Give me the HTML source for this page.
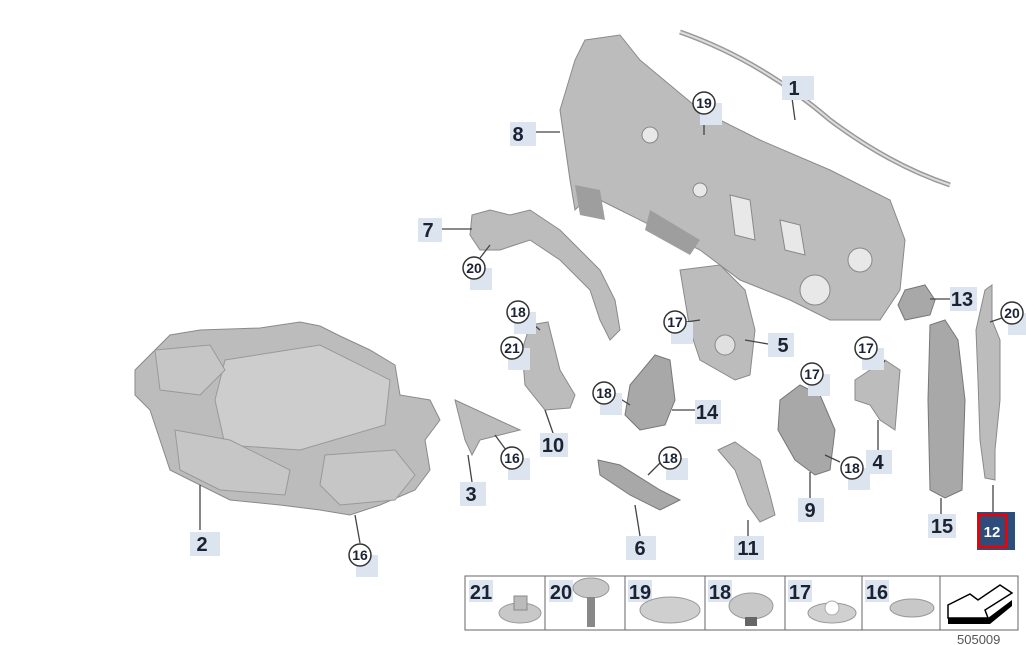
<!DOCTYPE html>
<html><head><meta charset="utf-8"><style>
html,body{margin:0;padding:0;background:#fff;}
svg{display:block;font-family:"Liberation Sans",sans-serif;}
.b{fill:#dbe4ef}
.t{font-weight:bold;font-size:20px;fill:#1a2233;text-anchor:middle}
.c{fill:#fff;stroke:#333;stroke-width:1.5}
.ct{font-weight:bold;font-size:14px;fill:#1a2233;text-anchor:middle}
.p{fill:#bcbcbc;stroke:#8a8a8a;stroke-width:1}
.d{fill:#a8a8a8;stroke:#777;stroke-width:1}
.l{stroke:#444;stroke-width:1.3;fill:none}
</style></head><body>
<svg width="1026" height="645" viewBox="0 0 1026 645">
<!-- big shield 2 -->
<path class="p" d="M135 370 L170 335 L200 330 L260 328 L300 322 L320 326 L340 336 L370 350 L395 365 L400 395 L430 400 L440 420 L425 440 L430 470 L415 490 L380 505 L350 515 L320 510 L280 505 L230 500 L200 485 L170 470 L160 440 L150 410 L135 395 Z"/>
<path fill="#cdcdcd" stroke="#999" d="M225 360 L320 345 L390 380 L385 425 L300 450 L225 445 L215 400 Z"/>
<path fill="#c6c6c6" stroke="#999" d="M175 430 L230 440 L290 470 L285 495 L220 490 L180 470 Z"/>
<path fill="#c6c6c6" stroke="#999" d="M325 455 L395 450 L415 475 L395 500 L340 505 L320 485 Z"/>
<path fill="#c6c6c6" stroke="#999" d="M155 350 L210 345 L225 370 L200 395 L160 390 Z"/>
<!-- firewall 8 -->
<path class="p" d="M585 40 L620 35 L640 60 L700 110 L760 140 L830 170 L890 200 L905 240 L900 290 L880 320 L830 320 L790 300 L740 280 L700 250 L660 230 L620 210 L590 195 L575 210 L570 180 L560 110 L575 60 Z"/>
<path fill="#9e9e9e" d="M575 185 L600 190 L605 220 L580 215 Z M650 210 L700 240 L690 255 L645 230 Z"/>
<circle cx="815" cy="290" r="15" fill="#e8e8e8" stroke="#888"/>
<circle cx="860" cy="260" r="12" fill="#e8e8e8" stroke="#888"/>
<circle cx="650" cy="135" r="8" fill="#e8e8e8" stroke="#888"/>
<circle cx="700" cy="190" r="7" fill="#e8e8e8" stroke="#888"/>
<path fill="#e8e8e8" stroke="#888" d="M730 195 L750 200 L755 240 L735 235 Z M780 220 L800 225 L805 255 L785 250 Z"/>
<!-- strip 1 -->
<path d="M680 32 Q760 60 830 120 Q890 165 950 185" fill="none" stroke="#999" stroke-width="5"/>
<path d="M680 32 Q760 60 830 120 Q890 165 950 185" fill="none" stroke="#ddd" stroke-width="2"/>
<!-- 7 -->
<path class="p" d="M472 215 L490 210 L510 215 L530 210 L560 230 L600 270 L615 300 L620 330 L610 340 L600 320 L590 290 L560 260 L530 240 L500 250 L480 250 L470 235 Z"/>
<!-- 5 -->
<path class="p" d="M680 270 L720 265 L745 290 L755 330 L750 375 L735 380 L700 360 L690 330 Z"/>
<circle cx="725" cy="345" r="10" fill="#e0e0e0" stroke="#888"/>
<!-- 13 -->
<path class="d" d="M905 290 L925 285 L935 300 L930 315 L905 320 L898 305 Z"/>
<!-- 15 -->
<path class="d" d="M930 325 L945 320 L958 340 L965 400 L962 490 L945 498 L930 490 L928 400 Z"/>
<!-- 12 -->
<path class="p" d="M985 290 L992 285 L992 320 L1000 340 L1000 400 L995 450 L995 480 L985 478 L980 440 L978 380 L976 330 Z"/>
<!-- 10 -->
<path class="p" d="M530 325 L548 322 L560 370 L575 395 L570 408 L545 410 L525 385 L522 350 Z"/>
<!-- 14 -->
<path class="d" d="M630 385 L655 355 L670 360 L675 400 L665 425 L640 430 L625 415 Z"/>
<!-- 3 -->
<path class="p" d="M455 400 L520 430 L480 440 L472 455 L465 440 Z"/>
<!-- 6 -->
<path class="d" d="M598 460 L620 465 L660 490 L680 500 L660 510 L630 495 L600 475 Z"/>
<!-- 11 -->
<path class="p" d="M718 450 L735 442 L760 460 L770 495 L775 515 L760 522 L748 505 L735 470 Z"/>
<!-- 9 -->
<path class="d" d="M780 400 L800 385 L820 395 L835 430 L830 470 L815 475 L795 460 L778 430 Z"/>
<!-- 4 -->
<path class="p" d="M855 380 L885 360 L900 370 L895 430 L880 420 L870 405 L855 400 Z"/>

<!-- leaders -->
<g class="l">
<path d="M792 98 L795 120"/><path d="M535 132 L560 132"/><path d="M704 115 L704 135"/>
<path d="M440 229 L472 229"/><path d="M480 258 L490 245"/><path d="M528 320 L540 330"/>
<path d="M520 356 L528 365"/><path d="M686 322 L700 320"/><path d="M768 344 L745 340"/>
<path d="M950 299 L930 299"/><path d="M1002 318 L990 322"/><path d="M876 352 L885 362"/>
<path d="M616 396 L630 405"/><path d="M695 410 L672 410"/><path d="M553 433 L545 410"/>
<path d="M472 482 L468 455"/><path d="M506 450 L495 435"/><path d="M812 386 L812 395"/>
<path d="M878 450 L878 420"/><path d="M840 462 L825 455"/><path d="M660 463 L648 475"/>
<path d="M810 498 L810 472"/><path d="M941 514 L941 498"/><path d="M993 514 L993 485"/>
<path d="M640 536 L635 505"/><path d="M748 536 L748 520"/><path d="M200 530 L200 485"/>
<path d="M360 543 L355 515"/>
</g>

<!-- label boxes -->
<g>
<rect class="b" x="782" y="76" width="32" height="24"/><text class="t" x="794" y="95">1</text>
<rect class="b" x="510" y="122" width="26" height="24"/><text class="t" x="518" y="141">8</text>
<rect class="b" x="418" y="218" width="24" height="24"/><text class="t" x="428" y="237">7</text>
<rect class="b" x="768" y="333" width="26" height="24"/><text class="t" x="783" y="352">5</text>
<rect class="b" x="950" y="287" width="27" height="24"/><text class="t" x="962" y="306">13</text>
<rect class="b" x="695" y="400" width="26" height="24"/><text class="t" x="707" y="419">14</text>
<rect class="b" x="540" y="433" width="28" height="24"/><text class="t" x="553" y="452">10</text>
<rect class="b" x="460" y="482" width="26" height="24"/><text class="t" x="471" y="501">3</text>
<rect class="b" x="866" y="450" width="26" height="24"/><text class="t" x="878" y="469">4</text>
<rect class="b" x="798" y="498" width="26" height="24"/><text class="t" x="810" y="517">9</text>
<rect class="b" x="928" y="514" width="28" height="24"/><text class="t" x="942" y="533">15</text>
<rect class="b" x="626" y="536" width="30" height="24"/><text class="t" x="640" y="555">6</text>
<rect class="b" x="734" y="536" width="30" height="24"/><text class="t" x="748" y="555">11</text>
<rect class="b" x="190" y="532" width="30" height="24"/><text class="t" x="202" y="551">2</text>
<rect x="977" y="512" width="38" height="38" fill="#2f4d7a"/>
<rect x="979" y="515" width="27" height="32" fill="none" stroke="#e00" stroke-width="2.5"/>
<text x="992" y="537" font-weight="bold" font-size="15" fill="#fff" text-anchor="middle">12</text>
</g>

<!-- circle callouts -->
<g>
<g transform="translate(704,103)"><rect class="b" x="-4" y="0" width="22" height="22"/><circle class="c" r="11"/><text class="ct" x="0" y="5">19</text></g>
<g transform="translate(474,268)"><rect class="b" x="-4" y="0" width="22" height="22"/><circle class="c" r="11"/><text class="ct" x="0" y="5">20</text></g>
<g transform="translate(518,312)"><rect class="b" x="-4" y="0" width="22" height="22"/><circle class="c" r="11"/><text class="ct" x="0" y="5">18</text></g>
<g transform="translate(512,348)"><rect class="b" x="-4" y="0" width="22" height="22"/><circle class="c" r="11"/><text class="ct" x="0" y="5">21</text></g>
<g transform="translate(675,322)"><rect class="b" x="-4" y="0" width="22" height="22"/><circle class="c" r="11"/><text class="ct" x="0" y="5">17</text></g>
<g transform="translate(1012,313)"><rect class="b" x="-4" y="0" width="18" height="22"/><circle class="c" r="11"/><text class="ct" x="0" y="5">20</text></g>
<g transform="translate(866,348)"><rect class="b" x="-4" y="0" width="22" height="22"/><circle class="c" r="11"/><text class="ct" x="0" y="5">17</text></g>
<g transform="translate(604,393)"><rect class="b" x="-4" y="0" width="22" height="22"/><circle class="c" r="11"/><text class="ct" x="0" y="5">18</text></g>
<g transform="translate(512,458)"><rect class="b" x="-4" y="0" width="22" height="22"/><circle class="c" r="11"/><text class="ct" x="0" y="5">16</text></g>
<g transform="translate(812,374)"><rect class="b" x="-4" y="0" width="22" height="22"/><circle class="c" r="11"/><text class="ct" x="0" y="5">17</text></g>
<g transform="translate(852,468)"><rect class="b" x="-4" y="0" width="22" height="22"/><circle class="c" r="11"/><text class="ct" x="0" y="5">18</text></g>
<g transform="translate(670,458)"><rect class="b" x="-4" y="0" width="22" height="22"/><circle class="c" r="11"/><text class="ct" x="0" y="5">18</text></g>
<g transform="translate(360,555)"><rect class="b" x="-4" y="0" width="22" height="22"/><circle class="c" r="11"/><text class="ct" x="0" y="5">16</text></g>
</g>

<!-- bottom table -->
<g>
<rect x="465" y="576" width="553" height="54" fill="#fff" stroke="#666" stroke-width="1"/>
<path d="M545 576V630M625 576V630M705 576V630M785 576V630M862 576V630M940 576V630" stroke="#666"/>
<rect class="b" x="469" y="580" width="24" height="22"/>
<rect class="b" x="549" y="580" width="24" height="22"/>
<rect class="b" x="628" y="580" width="24" height="22"/>
<rect class="b" x="708" y="580" width="24" height="22"/>
<rect class="b" x="788" y="580" width="24" height="22"/>
<rect class="b" x="865" y="580" width="24" height="22"/>
<ellipse cx="520" cy="613" rx="21" ry="10" fill="#c8c8c8" stroke="#999"/><path d="M514 596h13v14h-13z" fill="#bbb" stroke="#888"/>
<ellipse cx="591" cy="588" rx="18" ry="10" fill="#c8c8c8" stroke="#999"/><rect x="587" y="597" width="8" height="30" fill="#888"/>
<ellipse cx="670" cy="610" rx="30" ry="13" fill="#cfcfcf" stroke="#999"/>
<ellipse cx="751" cy="606" rx="22" ry="13" fill="#c8c8c8" stroke="#999"/><rect x="745" y="617" width="12" height="9" fill="#666"/>
<ellipse cx="832" cy="613" rx="24" ry="10" fill="#d0d0d0" stroke="#999"/><circle cx="832" cy="608" r="7" fill="#fff" stroke="#aaa"/>
<ellipse cx="912" cy="608" rx="22" ry="9" fill="#c8c8c8" stroke="#999"/>
<text class="t" x="481" y="599">21</text>
<text class="t" x="561" y="599">20</text>
<text class="t" x="640" y="599">19</text>
<text class="t" x="720" y="599">18</text>
<text class="t" x="800" y="599">17</text>
<text class="t" x="877" y="599">16</text>
<path d="M948 605 L970 594 L978 600 L1000 585 L1012 593 L985 610 L988 618 L948 618 Z" fill="#fff" stroke="#000" stroke-width="1.5"/>
<path d="M948 618 H988 L1012 600 V606 L990 624 H948 Z" fill="#000"/>
<text x="957" y="644" font-size="13" fill="#555">505009</text>
</g>
</svg>
</body></html>
